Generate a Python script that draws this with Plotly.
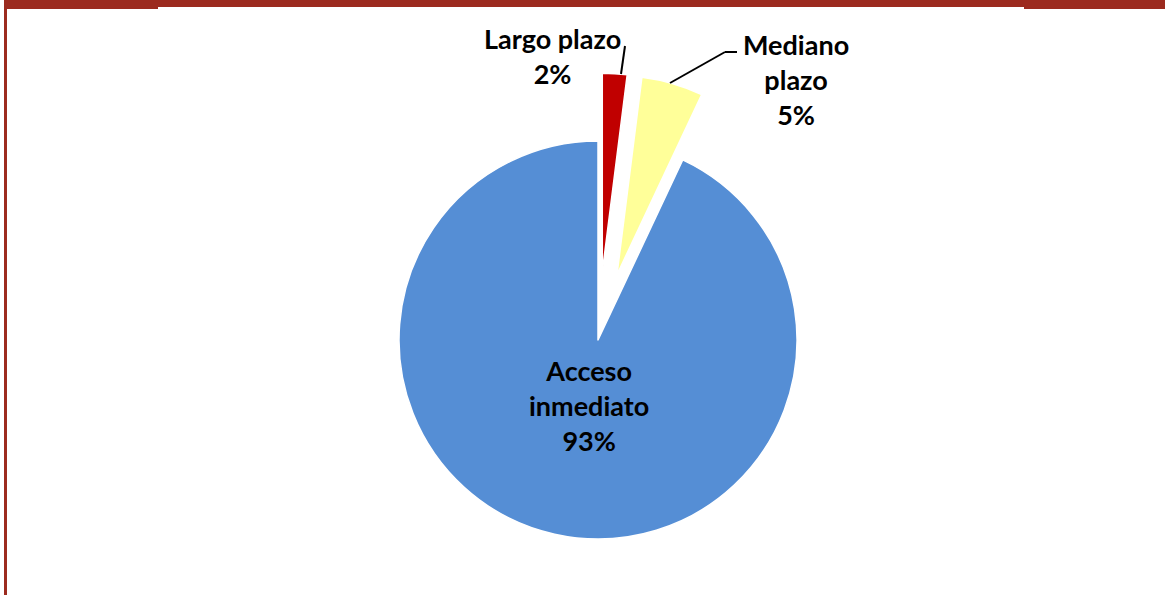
import math
import plotly.graph_objects as go

labels = ["Largo plazo", "Mediano plazo", "Acceso inmediato"]
label_lines = ["Largo plazo", "Mediano<br>plazo", "Acceso<br>inmediato"]
values = [2, 5, 93]
percents = ["2%", "5%", "93%"]
colors = ["#C00000", "#FFFF99", "#558ED5"]
exploded = [True, True, False]

W, H = 1165, 595
cx, cy, r = 598, 340, 199
pull_px = 68
CLEAR = "rgba(0,0,0,0)"

fig = go.Figure()


def dom(x, y):
    return dict(x=[(x - r) / W, (x + r) / W], y=[1 - (y + r) / H, 1 - (y - r) / H])


total = sum(values)
cum = 0.0
mids = []
for v in values:
    mids.append((cum + v / 2) / total * 2 * math.pi)
    cum += v

# base trace: non-exploded slices
base_cols = [CLEAR if e else c for c, e in zip(colors, exploded)]
base_w = [0 if e else 1.5 for e in exploded]
fig.add_trace(go.Pie(
    labels=labels, values=values, sort=False, direction="clockwise", rotation=0,
    marker=dict(colors=base_cols, line=dict(color="white", width=base_w)),
    textinfo="none", hoverinfo="skip", showlegend=False, domain=dom(cx, cy),
))

# exploded slices, each drawn from the same data, shifted outward along its mid-angle
for i, e in enumerate(exploded):
    if not e:
        continue
    cols = [colors[j] if j == i else CLEAR for j in range(len(values))]
    wid = [1.5 if j == i else 0 for j in range(len(values))]
    ox = cx + pull_px * math.sin(mids[i])
    oy = cy - pull_px * math.cos(mids[i])
    fig.add_trace(go.Pie(
        labels=labels, values=values, sort=False, direction="clockwise", rotation=0,
        marker=dict(colors=cols, line=dict(color="white", width=wid)),
        textinfo="none", hoverinfo="skip", showlegend=False, domain=dom(ox, oy),
    ))

font = dict(family="Lato, 'Open Sans', sans-serif", size=27, color="black")
label_pos = [(552, 56), (796, 80), (589, 405)]
for txt, pct, (x, y) in zip(label_lines, percents, label_pos):
    fig.add_annotation(x=x / W, y=1 - y / H, xref="paper", yref="paper",
                       text=f"<b>{txt}<br>{pct}</b>", showarrow=False, font=font,
                       align="center", xanchor="center", yanchor="middle")

# leader lines
line_style = dict(color="black", width=2)
fig.add_shape(type="line", xref="paper", yref="paper", x0=625 / W, y0=1 - 46 / H, x1=621 / W, y1=1 - 74 / H, line=line_style)
fig.add_shape(type="line", xref="paper", yref="paper", x0=737 / W, y0=1 - 52 / H, x1=725 / W, y1=1 - 52 / H, line=line_style)
fig.add_shape(type="line", xref="paper", yref="paper", x0=725 / W, y0=1 - 52 / H, x1=670 / W, y1=1 - 83 / H, line=line_style)

# frame
frame = "#9C2B1F"
fig.add_shape(type="rect", xref="paper", yref="paper", x0=4 / W, x1=1, y0=1 - 7 / H, y1=1, fillcolor=frame, line_width=0)
fig.add_shape(type="rect", xref="paper", yref="paper", x0=4 / W, x1=158 / W, y0=1 - 9 / H, y1=1, fillcolor=frame, line_width=0)
fig.add_shape(type="rect", xref="paper", yref="paper", x0=1024 / W, x1=1, y0=1 - 9 / H, y1=1, fillcolor=frame, line_width=0)
fig.add_shape(type="rect", xref="paper", yref="paper", x0=4 / W, x1=7 / W, y0=0, y1=1, fillcolor=frame, line_width=0)

fig.update_layout(width=W, height=H, margin=dict(l=0, r=0, t=0, b=0),
                  paper_bgcolor="white", plot_bgcolor="white")
fig.write_html("out.html", config={"displayModeBar": False},
               post_script="document.body.style.margin='0';document.body.style.overflow='hidden';")
